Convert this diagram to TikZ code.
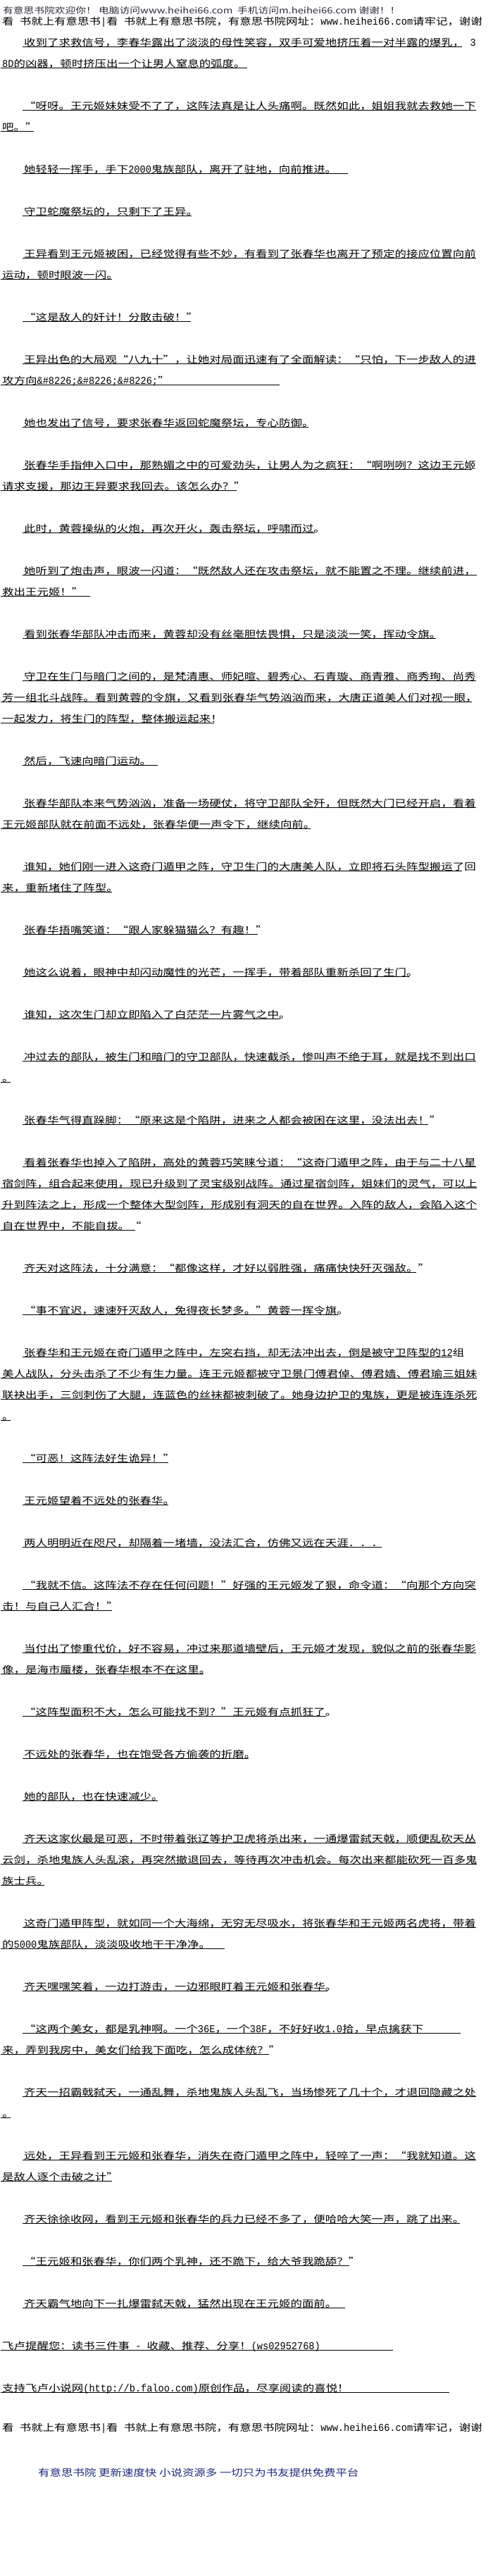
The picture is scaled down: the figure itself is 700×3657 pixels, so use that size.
\documentclass[tikz,border=0pt]{standalone}
\usepackage{graphicx}
\usepackage{fontspec}
\setmainfont{Noto Sans CJK SC}
\newfontfamily\halffont{Liberation Mono}
\usetikzlibrary{calc}

\definecolor{headgray}{RGB}{45,45,58}
\definecolor{footblue}{RGB}{30,42,120}

\newcommand{\bodyfont}{\fontsize{13.5}{30}\selectfont}
\newcommand{\headfont}{\fontsize{12.1}{30}\selectfont}
\newcommand{\hw}[1]{\scalebox{0.75}[1]{\halffont\fontsize{14.9}{30}\selectfont #1}}

\begin{document}
\begin{tikzpicture}[
    x=1pt, y=-1pt,
    line/.style={anchor=base west, inner sep=0pt, xscale=1.2185, font=\bodyfont},
    head/.style={line, font=\headfont, text=headgray},
    uline/.style={line width=0.9pt}
]
    % === Page ===
    \path[fill=white, use as bounding box] (0,0) rectangle (700,3657);

    % === Site header ===
    \node[head] (h1) at (4, 19) {有意思书院欢迎你！ 电脑访问www.heihei66.com~~手机访问m.heihei66.com 谢谢！！};
    \node[line] (h2) at (3, 35) {看\hw{ }书就上有意思书\hw{|}看\hw{ }书就上有意思书院，有意思书院网址：\hw{www.heihei66.com}请牢记，谢谢};

    % === Chapter text ===
    \node[line] (p1a) at (34, 65) {收到了求救信号，李春华露出了淡淡的母性笑容，双手可爱地挤压着一对半露的爆乳，\hw{ 3}};
    \node[line] (p1b) at (3, 95) {\hw{8D}的凶器，顿时挤压出一个让男人窒息的弧度。};
    \node[line] (p2a) at (34, 155) {“呀呀。王元姬妹妹受不了了，这阵法真是让人头痛啊。既然如此，姐姐我就去救她一下};
    \node[line] (p2b) at (3, 185) {吧。”};
    \node[line] (p3) at (34, 245) {她轻轻一挥手，手下\hw{2000}鬼族部队，离开了驻地，向前推进。};
    \node[line] (p4) at (34, 305) {守卫蛇魔祭坛的，只剩下了王异。};
    \node[line] (p5a) at (34, 365) {王异看到王元姬被困，已经觉得有些不妙，有看到了张春华也离开了预定的接应位置向前};
    \node[line] (p5b) at (3, 395) {运动，顿时眼波一闪。};
    \node[line] (p6) at (34, 455) {“这是敌人的奸计！分散击破！”};
    \node[line] (p7a) at (34, 515) {王异出色的大局观“八九十”，让她对局面迅速有了全面解读：“只怕，下一步敌人的进};
    \node[line] (p7b) at (3, 545) {攻方向\hw{\&\#8226;\&\#8226;\&\#8226;}”};
    \node[line] (p8) at (34, 605) {她也发出了信号，要求张春华返回蛇魔祭坛，专心防御。};
    \node[line] (p9a) at (34, 665) {张春华手指伸入口中，那熟媚之中的可爱劲头，让男人为之疯狂：“啊咧咧？这边王元姬};
    \node[line] (p9b) at (3, 695) {请求支援，那边王异要求我回去。该怎么办？”};
    \node[line] (p10) at (34, 755) {此时，黄蓉操纵的火炮，再次开火，轰击祭坛，呼啸而过。};
    \node[line] (p11a) at (34, 815) {她听到了炮击声，眼波一闪道：“既然敌人还在攻击祭坛，就不能置之不理。继续前进，};
    \node[line] (p11b) at (3, 845) {救出王元姬！”};
    \node[line] (p12) at (34, 905) {看到张春华部队冲击而来，黄蓉却没有丝毫胆怯畏惧，只是淡淡一笑，挥动令旗。};
    \node[line] (p13a) at (34, 965) {守卫在生门与暗门之间的，是梵清惠、师妃暄、碧秀心、石青璇、商青雅、商秀珣、尚秀};
    \node[line] (p13b) at (3, 995) {芳一组北斗战阵。看到黄蓉的令旗，又看到张春华气势汹汹而来，大唐正道美人们对视一眼，};
    \node[line] (p13c) at (3, 1025) {一起发力，将生门的阵型，整体搬运起来！};
    \node[line] (p14) at (34, 1085) {然后，飞速向暗门运动。};
    \node[line] (p15a) at (34, 1145) {张春华部队本来气势汹汹，准备一场硬仗，将守卫部队全歼，但既然大门已经开启，看着};
    \node[line] (p15b) at (3, 1175) {王元姬部队就在前面不远处，张春华便一声令下，继续向前。};
    \node[line] (p16a) at (34, 1235) {谁知，她们刚一进入这奇门遁甲之阵，守卫生门的大唐美人队，立即将石头阵型搬运了回};
    \node[line] (p16b) at (3, 1265) {来，重新堵住了阵型。};
    \node[line] (p17) at (34, 1325) {张春华捂嘴笑道：“跟人家躲猫猫么？有趣！”};
    \node[line] (p18) at (34, 1385) {她这么说着，眼神中却闪动魔性的光芒，一挥手，带着部队重新杀回了生门。};
    \node[line] (p19) at (34, 1445) {谁知，这次生门却立即陷入了白茫茫一片雾气之中。};
    \node[line] (p20a) at (34, 1505) {冲过去的部队，被生门和暗门的守卫部队，快速截杀，惨叫声不绝于耳，就是找不到出口};
    \node[line] (p20b) at (3, 1535) {。};
    \node[line] (p21) at (34, 1595) {张春华气得直跺脚：“原来这是个陷阱，进来之人都会被困在这里，没法出去！”};
    \node[line] (p22a) at (34, 1655) {看着张春华也掉入了陷阱，高处的黄蓉巧笑睐兮道：“这奇门遁甲之阵，由于与二十八星};
    \node[line] (p22b) at (3, 1685) {宿剑阵，组合起来使用，现已升级到了灵宝级别战阵。通过星宿剑阵，姐妹们的灵气，可以上};
    \node[line] (p22c) at (3, 1715) {升到阵法之上，形成一个整体大型剑阵，形成别有洞天的自在世界。入阵的敌人，会陷入这个};
    \node[line] (p22d) at (3, 1745) {自在世界中，不能自拔。“};
    \node[line] (p23) at (34, 1805) {齐天对这阵法，十分满意：“都像这样，才好以弱胜强，痛痛快快歼灭强敌。”};
    \node[line] (p24) at (34, 1865) {“事不宜迟，速速歼灭敌人，免得夜长梦多。”黄蓉一挥令旗。};
    \node[line] (p25a) at (34, 1925) {张春华和王元姬在奇门遁甲之阵中，左突右挡，却无法冲出去，倒是被守卫阵型的\hw{12}组};
    \node[line] (p25b) at (3, 1955) {美人战队，分头击杀了不少有生力量。连王元姬都被守卫景门傅君倬、傅君嫱、傅君瑜三姐妹};
    \node[line] (p25c) at (3, 1985) {联袂出手，三剑刺伤了大腿，连蓝色的丝袜都被刺破了。她身边护卫的鬼族，更是被连连杀死};
    \node[line] (p25d) at (3, 2015) {。};
    \node[line] (p26) at (34, 2075) {“可恶！这阵法好生诡异！”};
    \node[line] (p27) at (34, 2135) {王元姬望着不远处的张春华。};
    \node[line] (p28) at (34, 2195) {两人明明近在咫尺，却隔着一堵墙，没法汇合，仿佛又远在天涯．．．};
    \node[line] (p29a) at (34, 2255) {“我就不信。这阵法不存在任何问题！”好强的王元姬发了狠，命令道：“向那个方向突};
    \node[line] (p29b) at (3, 2285) {击！与自己人汇合！”};
    \node[line] (p30a) at (34, 2345) {当付出了惨重代价，好不容易，冲过来那道墙壁后，王元姬才发现，貌似之前的张春华影};
    \node[line] (p30b) at (3, 2375) {像，是海市蜃楼，张春华根本不在这里。};
    \node[line] (p31) at (34, 2435) {“这阵型面积不大，怎么可能找不到？”王元姬有点抓狂了。};
    \node[line] (p32) at (34, 2495) {不远处的张春华，也在饱受各方偷袭的折磨。};
    \node[line] (p33) at (34, 2555) {她的部队，也在快速减少。};
    \node[line] (p34a) at (34, 2615) {齐天这家伙最是可恶，不时带着张辽等护卫虎将杀出来，一通爆雷弑天戟，顺便乱砍天丛};
    \node[line] (p34b) at (3, 2645) {云剑，杀地鬼族人头乱滚，再突然撤退回去，等待再次冲击机会。每次出来都能砍死一百多鬼};
    \node[line] (p34c) at (3, 2675) {族士兵。};
    \node[line] (p35a) at (34, 2735) {这奇门遁甲阵型，就如同一个大海绵，无穷无尽吸水，将张春华和王元姬两名虎将，带着};
    \node[line] (p35b) at (3, 2765) {的\hw{5000}鬼族部队，淡淡吸收地干干净净。};
    \node[line] (p36) at (34, 2825) {齐天嘿嘿笑着，一边打游击，一边邪眼盯着王元姬和张春华。};
    \node[line] (p37a) at (34, 2885) {“这两个美女，都是乳神啊。一个\hw{36E}，一个\hw{38F}，不好好收\hw{1.0}拾，早点擒获下};
    \node[line] (p37b) at (3, 2915) {来，弄到我房中，美女们给我下面吃，怎么成体统？”};
    \node[line] (p38a) at (34, 2975) {齐天一招霸戟弑天，一通乱舞，杀地鬼族人头乱飞，当场惨死了几十个，才退回隐藏之处};
    \node[line] (p38b) at (3, 3005) {。};
    \node[line] (p39a) at (34, 3065) {远处，王异看到王元姬和张春华，消失在奇门遁甲之阵中，轻啐了一声：“我就知道。这};
    \node[line] (p39b) at (3, 3095) {是敌人逐个击破之计”};
    \node[line] (p40) at (34, 3155) {齐天徐徐收网，看到王元姬和张春华的兵力已经不多了，便哈哈大笑一声，跳了出来。};
    \node[line] (p41) at (34, 3215) {“王元姬和张春华，你们两个乳神，还不跪下，给大爷我跪舔？”};
    \node[line] (p42) at (34, 3275) {齐天霸气地向下一扎爆雷弑天戟，猛然出现在王元姬的面前。};

    % === Footer ===
    \node[line] (f1) at (3, 3335) {飞卢提醒您：读书三件事\hw{ - }收藏、推荐、分享！\hw{(ws02952768)}};
    \node[line] (f2) at (3, 3395) {支持飞卢小说网\hw{(http://b.faloo.com)}原创作品，尽享阅读的喜悦！};
    \node[line] (f3) at (3, 3451) {看\hw{ }书就上有意思书\hw{|}看\hw{ }书就上有意思书院，有意思书院网址：\hw{www.heihei66.com}请牢记，谢谢};
    \node[line, text=footblue] (f4) at (54, 3515) {有意思书院 更新速度快 小说资源多 一切只为书友提供免费平台};

    % Underlines (name/extra length past the text)
    \foreach \n/\e in {p1a/-20, p1b/2, p2a/0, p2b/-5, p3/16, p4/-9, p5a/0, p5b/-9,
        p6/-10, p7a/0, p7b/156, p8/-8, p9a/-6, p9b/-13, p10/-15, p11a/1, p11b/9,
        p12/-8, p13a/0, p13b/-8, p13c/-12, p14/9, p15a/0, p15b/-7, p16a/-20,
        p16b/-9, p17/-14, p18/-13, p19/-15, p20a/0, p20b/-5, p21/-19, p22a/0,
        p22b/-1, p22c/-1, p22d/-9, p23/-19, p24/-15, p25a/-17, p25b/-1, p25c/-1,
        p25d/-5, p26/-9, p27/-9, p28/-2, p29a/0, p29b/-9, p30a/0, p30b/-11,
        p31/-16, p32/-10, p33/-8, p34a/0, p34b/-1, p34c/-6, p35a/0, p35b/20,
        p36/-14, p37a/52, p37b/-16, p38a/0, p38b/-5, p39a/0, p39b/-9, p40/-7,
        p41/-16, p42/11, f1/103, f2/142}
        \draw[uline] ($(\n.base west)+(-2.5,1.8)$) -- ($(\n.base east)+(\e,1.8)$);
\end{tikzpicture}
\end{document}
